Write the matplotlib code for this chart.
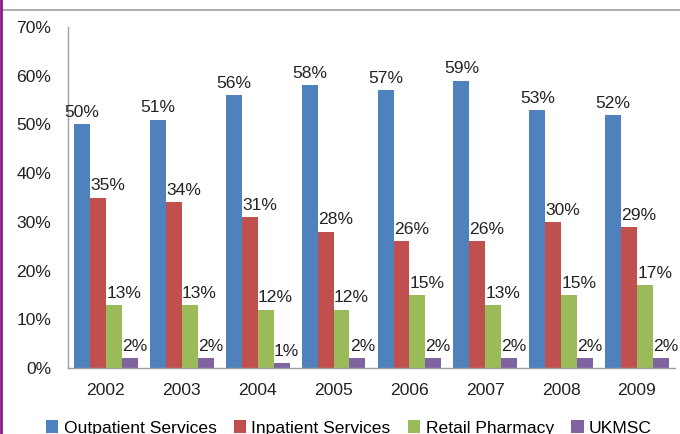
import numpy as np
import matplotlib
matplotlib.use("Agg")
import matplotlib.pyplot as plt
from matplotlib.patches import Patch
from matplotlib.lines import Line2D

plt.rcParams["font.family"] = ["Liberation Sans", "DejaVu Sans"]

years = ["2002", "2003", "2004", "2005", "2006", "2007", "2008", "2009"]
outpatient = [50, 51, 56, 58, 57, 59, 53, 52]
inpatient = [35, 34, 31, 28, 26, 26, 30, 29]
retail = [13, 13, 12, 12, 15, 13, 15, 17]
ukmsc = [2, 2, 1, 2, 2, 2, 2, 2]

series = [
    ("Outpatient Services", outpatient, "#4F81BD", 0),
    ("Inpatient Services", inpatient, "#C0504D", 7),
    ("Retail Pharmacy", retail, "#9BBB59", 7),
    ("UKMSC", ukmsc, "#8064A2", 3.5),
]

fs = 12.6

fig = plt.figure(figsize=(6.8, 4.34), dpi=100)
ax = fig.add_axes([68 / 680, (434 - 368) / 434, 607 / 680, 341 / 434])

x = np.arange(len(years))
w = 0.21
for i, (name, vals, col, dx) in enumerate(series):
    pos = x + (i - 1.5) * w
    ax.bar(pos, np.array(vals) / 100, width=w, color=col, label=name)
    for p, v in zip(pos, vals):
        ax.annotate(f"{v}%", (p, v / 100), xytext=(dx, 3), textcoords="offset points",
                    ha="center", va="bottom", fontsize=fs, color="#222222")

ax.set_xlim(-0.5, len(years) - 0.5)
ax.set_ylim(0, 0.7)
ticks = np.arange(0, 0.71, 0.1)
ax.set_yticks(ticks)
ax.set_yticklabels([f"{int(round(t * 100))}%" for t in ticks])
ax.set_xticks(x)
ax.set_xticklabels(years)
ax.tick_params(axis="both", length=0, labelsize=fs, labelcolor="#222222")
ax.tick_params(axis="y", pad=12)
ax.tick_params(axis="x", pad=11)

for s in ["top", "right"]:
    ax.spines[s].set_visible(False)
for s in ["left", "bottom"]:
    ax.spines[s].set_color("#A0A0A0")
    ax.spines[s].set_linewidth(1)

# slide frame: thin grey rule on top, purple strip on the left
fig.add_artist(Line2D([2 / 680, 1], [1 - 10 / 434, 1 - 10 / 434], color="#A0A0A0", lw=1.2))
fig.add_artist(Line2D([1 / 680, 1 / 680], [0, 1], color="#8B1A8B", lw=2))

handles = [Patch(facecolor=c, label=n) for n, _, c, _ in series]
fig.legend(handles=handles, loc="center", bbox_to_anchor=(349 / 680, 6 / 434), ncol=4,
           frameon=False, fontsize=fs, handlelength=0.7, handleheight=0.7,
           handletextpad=0.3, columnspacing=1.0, borderpad=0)

fig.savefig("out.png", dpi=100)
